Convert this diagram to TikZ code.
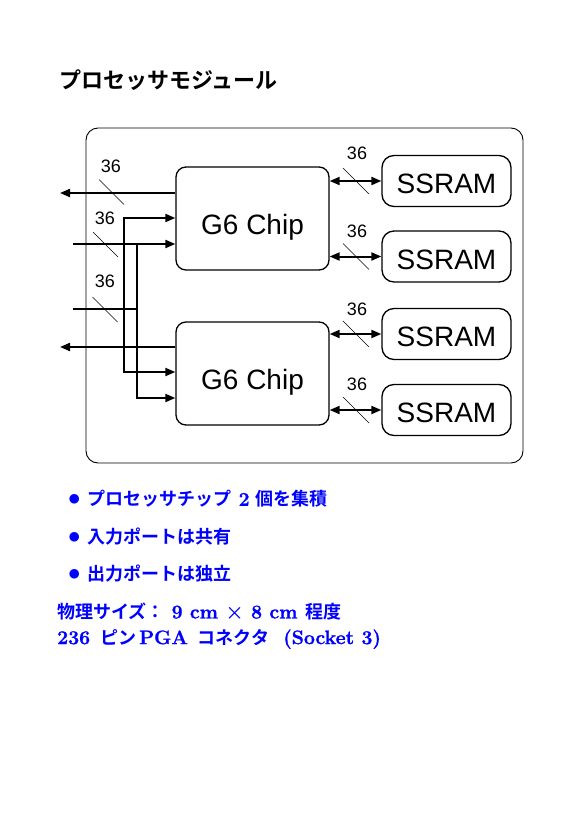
\documentclass[tikz,border=0pt]{standalone}
\usepackage{fontspec}
\newfontfamily\jp{Noto Sans CJK JP}[BoldFont={Noto Sans CJK JP Bold}]
\newfontfamily\hv{Liberation Sans}
\newfontfamily\lmfont{Latin Modern Roman}[BoldFeatures={FakeBold=1.2}]
\newcommand\latn[1]{{\lmfont\bfseries\fontsize{19.5}{19.5}\selectfont #1}}
\newcommand\bigdot{{\fontsize{27}{27}\selectfont$\bullet$}}
\usetikzlibrary{arrows.meta}
\begin{document}
\begin{tikzpicture}[x=1pt,y=-1pt,
  chipbox/.style={draw, line width=1.3pt, rounded corners=10pt, minimum width=153pt, minimum height=103pt,
    inner sep=0pt, font=\hv\fontsize{28}{28}\selectfont, text height=31pt, text depth=0pt},
  rambox/.style={draw, line width=1.3pt, rounded corners=12pt, minimum width=129pt, minimum height=51pt,
    inner sep=0pt, font=\hv\fontsize{28}{28}\selectfont, text height=25.6pt, text depth=0pt},
  sig/.style={line width=2pt},
  arr/.style={sig, -{Triangle[length=10pt,width=8pt]}},
  biarr/.style={sig, {Triangle[length=10pt,width=8pt]}-{Triangle[length=10pt,width=8pt]}},
  tickline/.style={line width=0.5pt},
  buswidth/.style={font=\hv\fontsize{18}{18}\selectfont, inner sep=0pt, text depth=0pt},
  bluetext/.style={anchor=west, inner sep=0pt, text=blue, font=\fontsize{18}{18}\selectfont\bfseries}
]
\useasboundingbox (0,0) rectangle (579,819);

% title
\node[anchor=west, inner sep=0pt, font=\jp\bfseries\fontsize{22}{22}\selectfont] (title) at (59,80) {プロセッサモジュール};

% module frame
\node[draw, line width=0.9pt, rounded corners=12pt, minimum width=437pt, minimum height=335pt, inner sep=0pt] (module) at (304.5,295.5) {};

% chips
\node[chipbox] (chip1) at (252.5,218.5) {G6 Chip};
\node[chipbox] (chip2) at (252.5,373.5) {G6 Chip};

% SSRAMs
\node[rambox] (ss1) at (446.5,181) {SSRAM};
\node[rambox] (ss2) at (446.5,256.5) {SSRAM};
\node[rambox] (ss3) at (446.5,334) {SSRAM};
\node[rambox] (ss4) at (446.5,410) {SSRAM};

\draw[biarr] (ss1.west -| chip1.east) -- (ss1.west);
\draw[biarr] (ss2.west -| chip1.east) -- (ss2.west);
\draw[biarr] (ss3.west -| chip2.east) -- (ss3.west);
\draw[biarr] (ss4.west -| chip2.east) -- (ss4.west);

% right ticks and labels
\foreach \y/\ly/\n in {181/153.3/a, 256.5/231.7/b, 334/309/c, 410/384/d} {
  \draw[tickline] (356,\y) ++(-13,-13) -- ++(26,26);
  \node[buswidth] (lbl\n) at (357,\ly) {36};
}

% left side coordinates
\coordinate (out1) at (60,193);
\coordinate (out2) at (60,347);
\coordinate (in1) at (73,244);
\coordinate (in2) at (73,309);
\coordinate (b1) at (137,244);
\coordinate (j2) at (124,309);
\coordinate (y218) at (0,218);
\coordinate (y372) at (0,372);
\coordinate (y398) at (0,398);

\draw[arr] (out1 -| chip1.west) -- (out1);
\draw[arr] (out2 -| chip2.west) -- (out2);
\draw[arr] (in1) -- (in1 -| chip1.west);
\draw[arr] (b1) |- (y398 -| chip2.west);
\draw[sig] (in2) -- (in2 -| b1);
\draw[arr] (j2) |- (y218 -| chip1.west);
\draw[arr] (j2) |- (y372 -| chip2.west);

% left ticks and labels
\draw[tickline] (111.5,192) ++(-12.5,-12.5) -- ++(25,25);
\draw[tickline] (105.5,244.5) ++(-12.5,-12.5) -- ++(25,25);
\draw[tickline] (105,309.5) ++(-12.5,-12.5) -- ++(25,25);
\node[buswidth] (lble) at (111,166) {36};
\node[buswidth] (lblf) at (105,218.5) {36};
\node[buswidth] (lblg) at (105,281.7) {36};

% bullet text
\node[bluetext] (t1) at (68,499) {\bigdot\hspace{7pt}{\jp プロセッサチップ}\hspace{7pt}\latn{2}\hspace{6pt}{\jp 個を集積}};
\node[bluetext] (t2) at (68,537) {\bigdot\hspace{7pt}{\jp 入力ポートは共有}};
\node[bluetext] (t3) at (68,574) {\bigdot\hspace{7pt}{\jp 出力ポートは独立}};
\node[bluetext] (t4) at (57,612) {{\jp 物理サイズ：}\hspace{7pt}\latn{9 cm {\boldmath$\times$} 8 cm}\hspace{8pt}{\jp 程度}};
\node[bluetext] (t5) at (57,639) {\latn{236}\hspace{10pt}{\jp ピン}\hspace{3pt}\latn{PGA}\hspace{10pt}{\jp コネクタ}\hspace{14pt}\latn{(Socket 3)}};
\end{tikzpicture}
\end{document}
